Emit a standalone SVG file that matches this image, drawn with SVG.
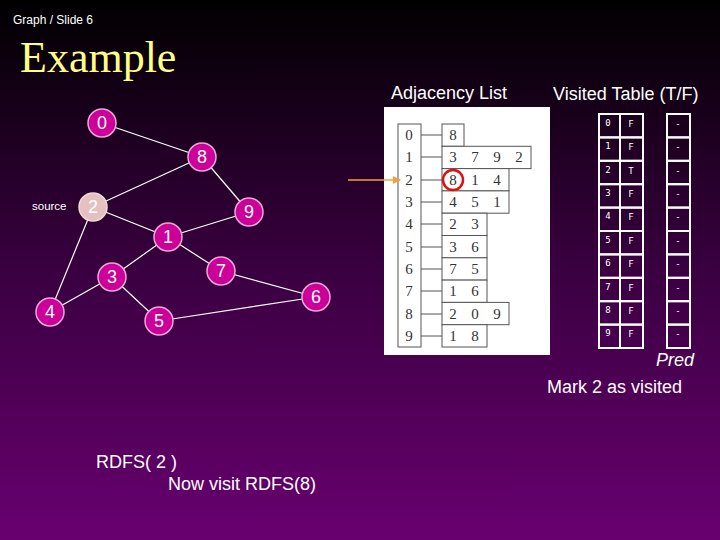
<svg xmlns="http://www.w3.org/2000/svg" width="720" height="540" viewBox="0 0 720 540">
<defs>
<linearGradient id="bg" x1="0" y1="0" x2="0" y2="1">
<stop offset="0" stop-color="#000000"/>
<stop offset="0.5" stop-color="#3a0040"/>
<stop offset="1" stop-color="#680070"/>
</linearGradient>
<marker id="ah" markerWidth="8" markerHeight="8" refX="7" refY="4" orient="auto" markerUnits="userSpaceOnUse">
<path d="M0,0 L8,4 L0,8 z" fill="#f0a040"/>
</marker>
<style>
.sans{font-family:"Liberation Sans",Arial,sans-serif}
.node circle{fill:#cc0099;stroke:#e8a8d8;stroke-width:1.5}
.node text{font-family:"Liberation Sans",Arial,sans-serif;font-size:18px;fill:#ffffff;text-anchor:middle}
.edge{stroke:#ffffff;stroke-width:1.2}
.adj rect{fill:#ffffff;stroke:#555555;stroke-width:1}
.adj text{font-family:"Liberation Serif","Times New Roman",serif;font-size:15px;fill:#333333;text-anchor:middle}
.adj line{stroke:#555555;stroke-width:1}
.vt rect{fill:none;stroke:#ffffff;stroke-width:2}
.vt text{font-family:"DejaVu Sans Mono",monospace;font-size:9px;fill:#ffffff;text-anchor:middle}
.lbl{font-family:"Liberation Sans",Arial,sans-serif;font-size:18px;fill:#ffffff}
</style>
</defs>
<rect x="0" y="0" width="720" height="540" fill="url(#bg)"/>
<text x="13" y="24" class="sans" font-size="12" fill="#ffffff">Graph / Slide 6</text>
<text x="20" y="72" font-family="Liberation Serif,'Times New Roman',serif" font-size="44" fill="#ffff88">Example</text>

<g id="connectors">
<line class="edge" x1="102" y1="123" x2="202" y2="157"/>
<line class="edge" x1="202" y1="157" x2="93" y2="207"/>
<line class="edge" x1="202" y1="157" x2="249" y2="212"/>
<line class="edge" x1="93" y1="207" x2="168" y2="237"/>
<line class="edge" x1="249" y1="212" x2="168" y2="237"/>
<line class="edge" x1="168" y1="237" x2="112" y2="277"/>
<line class="edge" x1="168" y1="237" x2="221" y2="271"/>
<line class="edge" x1="93" y1="207" x2="50" y2="312"/>
<line class="edge" x1="112" y1="277" x2="50" y2="312"/>
<line class="edge" x1="112" y1="277" x2="159" y2="321"/>
<line class="edge" x1="221" y1="271" x2="316" y2="297"/>
<line class="edge" x1="159" y1="321" x2="316" y2="297"/>
</g>

<g id="node0" class="node"><circle cx="102" cy="123" r="14"/><text x="102" y="129">0</text></g>
<g id="node8" class="node"><circle cx="202" cy="157" r="14"/><text x="202" y="163">8</text></g>
<g id="node2" class="node"><circle cx="93" cy="207" r="14" style="fill:#e4c0c0;stroke:#f0d8d8"/><text x="93" y="213">2</text></g>
<g id="node9" class="node"><circle cx="249" cy="212" r="14"/><text x="249" y="218">9</text></g>
<g id="node1" class="node"><circle cx="168" cy="237" r="14"/><text x="168" y="243">1</text></g>
<g id="node7" class="node"><circle cx="221" cy="271" r="14"/><text x="221" y="277">7</text></g>
<g id="node3" class="node"><circle cx="112" cy="277" r="14"/><text x="112" y="283">3</text></g>
<g id="node6" class="node"><circle cx="316" cy="297" r="14"/><text x="316" y="303">6</text></g>
<g id="node4" class="node"><circle cx="50" cy="312" r="14"/><text x="50" y="318">4</text></g>
<g id="node5" class="node"><circle cx="159" cy="321" r="14"/><text x="159" y="327">5</text></g>
<text x="32" y="210" class="sans" font-size="11.5" fill="#ffffff">source</text>

<text x="391" y="99" class="lbl">Adjacency List</text>
<text x="553" y="100" class="lbl">Visited Table (T/F)</text>

<g id="adjlist" class="adj">
<rect x="384" y="107" width="166" height="248" style="stroke:none"/>
<rect x="398" y="124" width="23" height="223"/>
<line x1="421" y1="135" x2="442" y2="135"/>
<line x1="421" y1="157" x2="442" y2="157"/>
<line x1="421" y1="180" x2="442" y2="180"/>
<line x1="421" y1="202" x2="442" y2="202"/>
<line x1="421" y1="224" x2="442" y2="224"/>
<line x1="421" y1="247" x2="442" y2="247"/>
<line x1="421" y1="269" x2="442" y2="269"/>
<line x1="421" y1="291" x2="442" y2="291"/>
<line x1="421" y1="314" x2="442" y2="314"/>
<line x1="421" y1="336" x2="442" y2="336"/>
<rect x="442" y="124" width="22" height="22.3"/>
<rect x="442" y="146.3" width="89" height="22.3"/>
<rect x="442" y="168.6" width="67" height="22.3"/>
<rect x="442" y="190.9" width="67" height="22.3"/>
<rect x="442" y="213.2" width="45" height="22.3"/>
<rect x="442" y="235.5" width="45" height="22.3"/>
<rect x="442" y="257.8" width="45" height="22.3"/>
<rect x="442" y="280.1" width="45" height="22.3"/>
<rect x="442" y="302.4" width="67" height="22.3"/>
<rect x="442" y="324.7" width="45" height="22.3"/>
<text x="409" y="140">0</text><text x="409" y="162">1</text><text x="409" y="185">2</text><text x="409" y="207">3</text><text x="409" y="229">4</text>
<text x="409" y="252">5</text><text x="409" y="274">6</text><text x="409" y="296">7</text><text x="409" y="319">8</text><text x="409" y="341">9</text>
<text x="453" y="140">8</text>
<text x="453" y="162">3</text><text x="475" y="162">7</text><text x="497" y="162">9</text><text x="519" y="162">2</text>
<text x="453" y="185">8</text><text x="475" y="185">1</text><text x="497" y="185">4</text>
<text x="453" y="207">4</text><text x="475" y="207">5</text><text x="497" y="207">1</text>
<text x="453" y="229">2</text><text x="475" y="229">3</text>
<text x="453" y="252">3</text><text x="475" y="252">6</text>
<text x="453" y="274">7</text><text x="475" y="274">5</text>
<text x="453" y="296">1</text><text x="475" y="296">6</text>
<text x="453" y="319">2</text><text x="475" y="319">0</text><text x="497" y="319">9</text>
<text x="453" y="341">1</text><text x="475" y="341">8</text>
<circle cx="453" cy="180" r="10" fill="none" stroke="#dd1111" stroke-width="2.5"/>
</g>

<g id="pointer">
<line x1="348" y1="180" x2="400" y2="180" stroke="#f0a040" stroke-width="1.5" marker-end="url(#ah)"/>
</g>

<g id="visited" class="vt">
<rect x="599" y="114" width="21" height="23.4"/><rect x="620" y="114" width="23" height="23.4"/><rect x="667" y="114" width="23" height="23.4"/>
<rect x="599" y="137.4" width="21" height="23.4"/><rect x="620" y="137.4" width="23" height="23.4"/><rect x="667" y="137.4" width="23" height="23.4"/>
<rect x="599" y="160.8" width="21" height="23.4"/><rect x="620" y="160.8" width="23" height="23.4"/><rect x="667" y="160.8" width="23" height="23.4"/>
<rect x="599" y="184.2" width="21" height="23.4"/><rect x="620" y="184.2" width="23" height="23.4"/><rect x="667" y="184.2" width="23" height="23.4"/>
<rect x="599" y="207.6" width="21" height="23.4"/><rect x="620" y="207.6" width="23" height="23.4"/><rect x="667" y="207.6" width="23" height="23.4"/>
<rect x="599" y="231" width="21" height="23.4"/><rect x="620" y="231" width="23" height="23.4"/><rect x="667" y="231" width="23" height="23.4"/>
<rect x="599" y="254.4" width="21" height="23.4"/><rect x="620" y="254.4" width="23" height="23.4"/><rect x="667" y="254.4" width="23" height="23.4"/>
<rect x="599" y="277.8" width="21" height="23.4"/><rect x="620" y="277.8" width="23" height="23.4"/><rect x="667" y="277.8" width="23" height="23.4"/>
<rect x="599" y="301.2" width="21" height="23.4"/><rect x="620" y="301.2" width="23" height="23.4"/><rect x="667" y="301.2" width="23" height="23.4"/>
<rect x="599" y="324.6" width="21" height="23.4"/><rect x="620" y="324.6" width="23" height="23.4"/><rect x="667" y="324.6" width="23" height="23.4"/>
<text x="608" y="126">0</text><text x="631" y="127">F</text><text x="678" y="127">-</text>
<text x="608" y="149">1</text><text x="631" y="150">F</text><text x="678" y="150">-</text>
<text x="608" y="173">2</text><text x="631" y="174">T</text><text x="678" y="174">-</text>
<text x="608" y="196">3</text><text x="631" y="197">F</text><text x="678" y="197">-</text>
<text x="608" y="219">4</text><text x="631" y="220">F</text><text x="678" y="220">-</text>
<text x="608" y="243">5</text><text x="631" y="244">F</text><text x="678" y="244">-</text>
<text x="608" y="266">6</text><text x="631" y="267">F</text><text x="678" y="267">-</text>
<text x="608" y="290">7</text><text x="631" y="291">F</text><text x="678" y="291">-</text>
<text x="608" y="313">8</text><text x="631" y="314">F</text><text x="678" y="314">-</text>
<text x="608" y="336">9</text><text x="631" y="337">F</text><text x="678" y="337">-</text>
</g>

<text x="656" y="366" class="lbl" font-style="italic">Pred</text>
<text x="547" y="393" class="lbl">Mark 2 as visited</text>
<text x="96" y="468" class="lbl">RDFS( 2 )</text>
<text x="168" y="490" class="lbl">Now visit RDFS(8)</text>
</svg>
